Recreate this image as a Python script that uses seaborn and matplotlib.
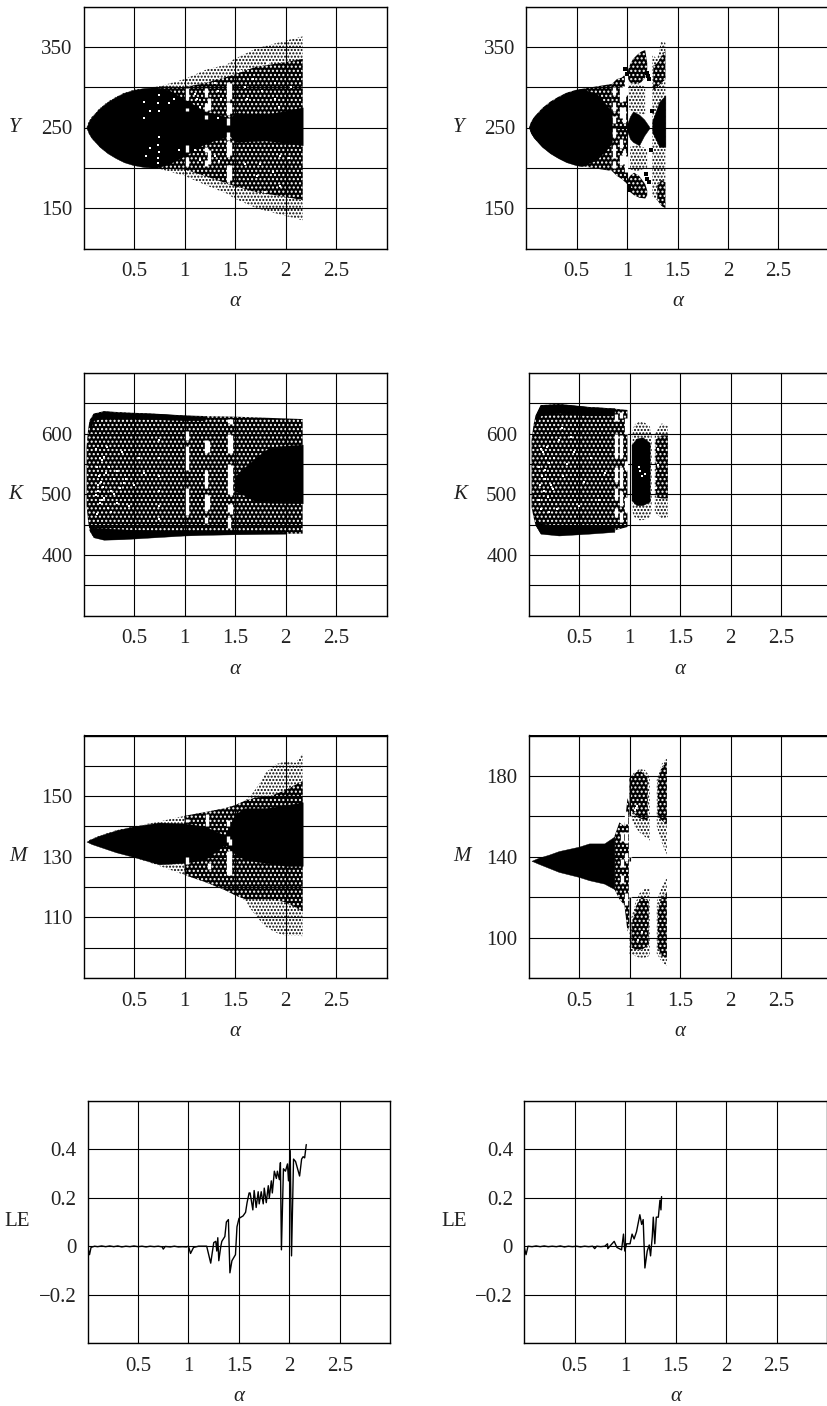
"""
Bifurcation diagrams and largest Lyapunov exponent against alpha.
Values read off the published figure: outlines of the point clouds,
white windows between them, and the two LE curves.
"""

import matplotlib.pyplot as plt
import pandas as pd
import seaborn as sns

# =============================
# DATA - Y, left
# =============================

YL_alpha = [0.03, 0.05, 0.08, 0.16, 0.24, 0.32, 0.4, 0.49, 0.6, 0.75, 1.0, 1.22, 1.42, 1.48, 1.71, 1.98, 2.17]
YL_upper = [250, 257, 263, 274, 282, 288, 293, 296.5, 299, 301, 310, 322, 328, 334, 348, 357, 363]
YL_lower = [250, 243, 237, 226, 218, 212, 207, 203.5, 201, 199, 190, 178, 168, 163, 150, 141, 135]
YL_mid_alpha = [0.75, 1.0, 1.2, 1.48, 1.7, 1.95, 2.17]
YL_mid_upper = [301, 300, 305, 315, 325, 330, 335]
YL_mid_lower = [199, 198, 190, 178, 170, 165, 160]
YL_core_alpha = [0.03, 0.05, 0.08, 0.16, 0.24, 0.32, 0.4, 0.49, 0.6, 0.72, 0.85, 1.0, 1.2, 1.45, 1.5, 1.8, 2.17]
YL_core_upper = [250, 257, 263, 274, 282, 288, 293, 296.5, 299, 300, 296, 285, 270, 262, 268, 266, 275]
YL_core_lower = [250, 243, 237, 226, 218, 212, 207, 203.5, 201, 200, 205, 215, 230, 240, 232, 234, 228]
YL_gap_alpha = [1.02, 1.02, 1.02, 1.02, 1.21, 1.21, 1.21, 1.21, 1.21, 1.24, 1.24,
                1.43, 1.43, 1.43, 1.43, 1.43, 1.43, 1.45, 1.45, 1.45, 1.45]
YL_gap_lo = [284, 270, 220, 202, 288, 270, 260, 220, 202, 272, 205,
             283, 266, 253, 235, 214, 183, 285, 268, 216, 185]
YL_gap_hi = [299, 274, 228, 214, 299, 280, 266, 226, 210, 286, 222,
             307, 282, 262, 245, 233, 204, 305, 280, 232, 203]
YL_speck_alpha = [0.6, 0.6, 0.62, 0.66, 0.66, 0.74, 0.75, 0.74, 0.75, 0.74, 0.75, 0.74, 0.75, 0.85, 0.9, 0.95,
                  1.1, 1.12, 1.15, 1.3, 1.33, 1.36, 1.3, 1.34, 1.1, 1.15, 1.33, 1.6, 1.75, 1.9, 1.95,
                  1.56, 1.62, 1.68, 1.77, 1.83, 1.9, 1.94, 2.05, 1.6, 1.72, 1.8, 1.88, 1.95, 2.03]
YL_speck_y = [282, 262, 215, 270, 225, 212, 220, 228, 238, 206, 270, 280, 290, 280, 285, 222,
              292, 285, 276, 305, 295, 285, 215, 208, 222, 210, 262, 300, 205, 285, 215,
              320, 285, 310, 295, 330, 305, 275, 300, 205, 190, 170, 195, 178, 212]

# =============================
# DATA - Y, right
# =============================

YR_alpha = [0.03, 0.05, 0.08, 0.16, 0.24, 0.32, 0.4, 0.49, 0.7, 0.85]
YR_upper = [250, 257, 263, 274, 282, 288, 293, 296.5, 301, 304]
YR_lower = [250, 243, 237, 226, 218, 212, 207, 203.5, 199, 196]
YR_solid_alpha = [0.03, 0.05, 0.08, 0.16, 0.24, 0.32, 0.4, 0.49, 0.55, 0.7, 0.85]
YR_solid_upper = [250, 257, 263, 274, 282, 288, 293, 296.5, 298, 292, 270]
YR_solid_lower = [250, 243, 237, 226, 218, 212, 207, 203.5, 202, 210, 230]
YR_band_alpha = [0.85, 0.9, 0.95, 1.0]
YR_band_upper = [304, 310, 312, 318]
YR_band_lower = [196, 190, 186, 180]
YR_gap_alpha = [0.87, 0.87, 0.87, 0.87, 0.87, 0.87, 0.94, 0.94, 0.94, 0.94, 0.97, 0.97, 0.97, 0.99, 0.99]
YR_gap_lo = [290, 270, 256, 238, 212, 200, 282, 262, 224, 204, 283, 255, 205, 290, 195]
YR_gap_hi = [300, 282, 264, 250, 228, 208, 300, 276, 236, 216, 302, 275, 222, 316, 215]
YR_toplobe_alpha = [1.0, 1.03, 1.06, 1.1, 1.14, 1.18, 1.2]
YR_toplobe_upper = [318, 328, 335, 340, 344, 346, 330]
YR_toplobe_lower = [312, 306, 304, 304, 306, 312, 322]
YR_botlobe_alpha = [1.0, 1.03, 1.07, 1.12, 1.18, 1.2]
YR_botlobe_upper = [184, 190, 194, 190, 180, 172]
YR_botlobe_lower = [176, 170, 166, 163, 162, 166]
YR_mid_alpha = [1.0, 1.03, 1.06, 1.12, 1.17, 1.22]
YR_mid_upper = [254, 264, 270, 266, 260, 251]
YR_mid_lower = [246, 236, 232, 228, 240, 249]
YR_midtop_alpha = [1.02, 1.1, 1.18]
YR_midtop_upper = [304, 306, 300]
YR_midtop_lower = [272, 268, 266]
YR_midbot_alpha = [1.03, 1.1, 1.2]
YR_midbot_upper = [226, 228, 224]
YR_midbot_lower = [198, 196, 200]
YR_end_alpha = [1.25, 1.3, 1.34, 1.38]
YR_end_upper = [340, 335, 358, 355]
YR_end_lower = [165, 160, 153, 150]
YR_endcore_alpha = [1.25, 1.29, 1.32, 1.38]
YR_endcore_upper = [258, 272, 282, 290]
YR_endcore_lower = [244, 234, 226, 226]
YR_endbot_alpha = [1.3, 1.34, 1.38]
YR_endbot_upper = [178, 185, 182]
YR_endbot_lower = [160, 153, 150]
YR_endtop_alpha = [1.26, 1.3, 1.38]
YR_endtop_upper = [326, 330, 345]
YR_endtop_lower = [296, 300, 310]
YR_blackdot_alpha = [1.2, 1.21, 1.22, 1.19, 1.2, 1.22, 0.98, 1.0, 1.02, 1.03, 1.24, 1.25]
YR_blackdot_y = [318, 314, 310, 192, 186, 182, 322, 316, 178, 172, 222, 270]

# =============================
# DATA - K, left
# =============================

KL_alpha = [0.03, 0.045, 0.06, 0.1, 0.2, 0.4, 0.7, 1.0, 1.2, 1.5, 2.17]
KL_upper = [578, 606, 622, 633, 637, 635, 633, 630, 629, 628, 624]
KL_lower = [482, 456, 440, 429, 425, 426, 429, 432, 433, 434, 435]
KL_top_alpha = [0.06, 0.1, 0.2, 0.4, 0.7, 1.0, 1.2]
KL_top_upper = [622, 633, 637, 635, 633, 630, 629]
KL_top_lower = [604, 622, 626, 626, 624, 622, 622]
KL_bot_alpha = [0.06, 0.1, 0.2, 0.4, 0.7, 1.0, 1.2, 1.5, 2.0]
KL_bot_upper = [452, 445, 444, 442, 440, 440, 440, 440, 438]
KL_bot_lower = [440, 429, 425, 426, 429, 432, 433, 434, 435]
KL_core_alpha = [1.5, 1.6, 1.7, 1.85, 2.17]
KL_core_upper = [530, 545, 560, 578, 582]
KL_core_lower = [505, 498, 488, 486, 485]
KL_gap_alpha = [1.02, 1.02, 1.02, 1.21, 1.21, 1.21, 1.21, 1.23, 1.23, 1.44, 1.44, 1.44, 1.44, 1.44,
                1.46, 1.46, 1.46, 1.46]
KL_gap_lo = [590, 540, 465, 568, 510, 472, 452, 570, 476, 618, 568, 500, 470, 445,
             616, 568, 498, 468]
KL_gap_hi = [605, 580, 510, 590, 540, 500, 462, 588, 498, 624, 600, 550, 484, 462,
             624, 598, 548, 484]
KL_speck_alpha = [0.16, 0.18, 0.2, 0.15, 0.17, 0.22, 0.25, 0.3, 0.18, 0.16, 0.2, 0.24,
                  0.38, 0.42, 0.5, 0.55, 0.6, 0.75, 0.75, 0.75, 0.75, 0.75, 0.75, 0.3, 0.45,
                  0.12, 0.13, 0.14, 0.14, 0.19, 0.23, 0.27, 0.33, 0.36, 0.12, 0.13, 0.27, 0.33, 0.4]
KL_speck_y = [560, 556, 562, 530, 520, 535, 545, 525, 490, 486, 494, 478,
              570, 525, 515, 560, 535, 590, 560, 530, 505, 480, 460, 500, 480,
              575, 545, 515, 505, 512, 578, 505, 538, 510, 498, 468, 470, 485, 518]

# =============================
# DATA - K, right
# =============================

KR_alpha = [0.03, 0.05, 0.07, 0.12, 0.3, 0.6, 0.8, 0.98]
KR_upper = [589, 615, 630, 647, 649, 644, 642, 639]
KR_lower = [479, 462, 449, 435, 432, 435, 438, 446]
KR_top_alpha = [0.07, 0.12, 0.3, 0.6, 0.85]
KR_top_upper = [630, 647, 649, 644, 642]
KR_top_lower = [615, 630, 634, 630, 630]
KR_bot_alpha = [0.07, 0.12, 0.3, 0.6, 0.85]
KR_bot_upper = [460, 452, 448, 448, 450]
KR_bot_lower = [449, 435, 432, 435, 438]
KR_gap_alpha = [0.87, 0.87, 0.87, 0.87, 0.87, 0.92, 0.92, 0.92, 0.92, 0.92, 0.97, 0.97, 0.97]
KR_gap_lo = [620, 560, 520, 490, 462, 625, 560, 510, 480, 455, 600, 540, 470]
KR_gap_hi = [632, 600, 545, 510, 478, 635, 598, 545, 505, 470, 625, 555, 495]
KR_blob_alpha = [1.03, 1.05, 1.1, 1.15, 1.2, 1.22]
KR_blob_upper = [605, 615, 620, 618, 612, 600]
KR_blob_lower = [470, 462, 457, 458, 462, 475]
KR_core_alpha = [1.02, 1.07, 1.13, 1.2]
KR_core_upper = [582, 592, 594, 585]
KR_core_lower = [490, 482, 482, 488]
KR_end_alpha = [1.25, 1.32, 1.38]
KR_end_upper = [600, 617, 612]
KR_end_lower = [470, 460, 462]
KR_endcore_alpha = [1.26, 1.32, 1.38]
KR_endcore_upper = [590, 597, 597]
KR_endcore_lower = [495, 493, 493]
KR_speck_alpha = [0.12, 0.14, 0.17, 0.2, 0.25, 0.13, 0.16, 0.22, 0.15, 0.19, 0.3, 0.38, 0.45, 0.55,
                  1.1, 1.12, 1.15, 1.28, 1.28, 1.26, 1.26, 1.09,
                  0.1, 0.11, 0.16, 0.18, 0.24, 0.28, 0.34, 0.42, 0.5, 0.62, 0.7, 0.76, 0.1, 0.12, 0.2, 0.33]
KR_speck_y = [575, 570, 560, 552, 560, 530, 525, 515, 505, 495, 590, 550, 570, 520,
              538, 530, 534, 575, 548, 525, 510, 545,
              545, 515, 540, 578, 508, 475, 530, 595, 480, 560, 490, 535, 490, 475, 470, 610]

# =============================
# DATA - M, left
# =============================

ML_alpha = [0.03, 0.08, 0.16, 0.32, 0.49, 0.75, 1.0, 1.2, 1.4, 1.5, 1.6, 1.65, 1.72, 1.8, 1.9, 2.0, 2.1, 2.17]
ML_upper = [135, 135.9, 137, 138.7, 140, 141.6, 143.5, 144.7, 146, 147, 148.5, 150, 153, 157.6, 160.5, 161.5, 161, 164]
ML_lower = [135, 134.2, 133.3, 131.5, 130, 127, 124, 121.7, 119, 117.3, 115.7, 113, 110, 107, 105, 104, 104, 103.8]
ML_mid_alpha = [1.0, 1.2, 1.4, 1.5, 1.6, 1.7, 1.85, 2.0, 2.17]
ML_mid_upper = [143.5, 144.7, 146, 147, 148.5, 149.5, 150, 152, 155]
ML_mid_lower = [124, 121.7, 119, 117.3, 116, 116, 116, 115, 112]
ML_core_alpha = [0.03, 0.08, 0.16, 0.32, 0.49, 0.75, 1.0, 1.2, 1.4, 1.5, 1.6, 1.8, 2.0, 2.17]
ML_core_upper = [135, 135.9, 137, 138.7, 140, 141.3, 141, 140, 137, 144, 146, 146, 147, 148]
ML_core_lower = [135, 134.2, 133.3, 131.5, 130, 127.5, 128, 129, 134, 131, 129, 128, 127, 127]
ML_gap_alpha = [1.02, 1.02, 1.22, 1.24, 1.43, 1.43, 1.43, 1.45, 1.45, 1.45]
ML_gap_lo = [127.5, 141.5, 140, 126, 124, 135, 140, 124, 130, 134]
ML_gap_hi = [130, 142.5, 144, 128, 132, 137, 142, 132, 132, 136]

# =============================
# DATA - M, right
# =============================

MR_alpha = [0.03, 0.1, 0.2, 0.3, 0.5, 0.6, 0.75, 0.85]
MR_upper = [138, 139.5, 141, 142.8, 145, 146.6, 146.6, 150]
MR_lower = [138, 136.5, 134.5, 132.5, 130, 128.4, 126.7, 124]
MR_spike_alpha = [0.85, 0.9, 0.95, 0.98, 1.0]
MR_spike_upper = [150, 157, 155, 169, 166]
MR_spike_lower = [124, 119, 116, 103, 106]
MR_gap_alpha = [0.93, 0.93, 0.93, 0.97, 0.97, 0.97, 0.97, 1.0, 1.0]
MR_gap_lo = [135, 127, 148, 138, 116, 147, 156, 120, 140]
MR_gap_hi = [139, 131, 152, 142, 122, 152, 162, 138, 160]
MR_up_alpha = [1.0, 1.05, 1.1, 1.15, 1.2]
MR_up_upper = [179, 182, 183.4, 183, 180]
MR_up_lower = [161, 155, 152, 150, 148]
MR_upcore_alpha = [1.0, 1.05, 1.1, 1.18]
MR_upcore_upper = [179, 181, 183, 179]
MR_upcore_lower = [164, 161, 159, 158]
MR_low_alpha = [1.0, 1.05, 1.1, 1.15, 1.2]
MR_low_upper = [106, 116, 122, 124, 124]
MR_low_lower = [92, 91, 90, 90, 91]
MR_lowcore_alpha = [1.02, 1.07, 1.12, 1.19]
MR_lowcore_upper = [106, 116, 120, 118]
MR_lowcore_lower = [95, 94, 94, 96]
MR_end1_alpha = [1.27, 1.32, 1.37]
MR_end1_upper = [178, 186, 189]
MR_end1_lower = [155, 147, 141]
MR_end1core_alpha = [1.28, 1.32, 1.37]
MR_end1core_upper = [177, 184, 187]
MR_end1core_lower = [160, 158, 156]
MR_end2_alpha = [1.27, 1.32, 1.37]
MR_end2_upper = [118, 125, 130]
MR_end2_lower = [92, 88, 86]
MR_end2core_alpha = [1.28, 1.32, 1.37]
MR_end2core_upper = [114, 120, 122]
MR_end2core_lower = [95, 91, 90]
MR_speck_alpha = [1.06, 1.07, 1.05, 1.23, 1.25, 1.24, 1.23, 1.08, 1.12, 1.25]
MR_speck_y = [164, 165, 163, 173, 174, 165, 166, 99, 103, 102]

# =============================
# DATA - LE curves
# =============================

LEL_alpha = [0.0, 0.02, 0.035, 0.07, 0.1, 0.14, 0.18, 0.22, 0.26, 0.3, 0.34, 0.38, 0.42, 0.46, 0.5,
             0.54, 0.58, 0.62, 0.66, 0.7, 0.74, 0.75, 0.77, 0.82, 0.86, 0.9, 0.94, 0.98, 1.0, 1.02,
             1.05, 1.1, 1.18, 1.22, 1.25, 1.27, 1.28, 1.29, 1.3, 1.32, 1.33, 1.36, 1.375, 1.395,
             1.41, 1.43, 1.465, 1.48, 1.5, 1.52, 1.54, 1.565, 1.58, 1.6, 1.61, 1.637, 1.65, 1.67,
             1.69, 1.7, 1.72, 1.74, 1.75, 1.77, 1.79, 1.8, 1.82, 1.83, 1.85, 1.87, 1.88, 1.9, 1.91,
             1.92, 1.94, 1.96, 1.98, 1.99, 2.007, 2.02, 2.04, 2.06, 2.08, 2.10, 2.12, 2.135, 2.15, 2.166]
LEL_value = [0.0, -0.035, -0.005, 0.0, -0.002, 0.001, -0.002, 0.001, -0.002, 0.001, -0.003, 0.0,
             -0.002, 0.001, -0.002, 0.0, -0.003, 0.0, -0.002, 0.0, -0.003, -0.012, -0.001, -0.003,
             0.0, -0.003, -0.002, -0.003, 0.0, -0.03, -0.005, 0.0, 0.0, -0.07, 0.015, 0.02, -0.02,
             0.035, -0.06, 0.0, 0.02, 0.04, 0.1, 0.11, -0.11, -0.06, -0.035, 0.08, 0.115, 0.12, 0.125,
             0.14, 0.18, 0.22, 0.22, 0.15, 0.23, 0.16, 0.225, 0.175, 0.225, 0.175, 0.24, 0.18, 0.25,
             0.2, 0.27, 0.22, 0.31, 0.28, 0.31, 0.275, 0.345, -0.015, 0.32, 0.31, 0.34, 0.27, 0.395,
             -0.04, 0.36, 0.35, 0.32, 0.29, 0.36, 0.37, 0.365, 0.42]

LER_alpha = [0.0, 0.02, 0.04, 0.08, 0.12, 0.16, 0.2, 0.24, 0.28, 0.32, 0.36, 0.4, 0.44, 0.48, 0.52,
             0.56, 0.6, 0.64, 0.68, 0.7, 0.72, 0.76, 0.8, 0.827, 0.83, 0.85, 0.893, 0.92, 0.966,
             0.985, 0.998, 1.015, 1.05, 1.07, 1.09, 1.114, 1.147, 1.165, 1.18, 1.197, 1.22, 1.24,
             1.253, 1.27, 1.28, 1.295, 1.31, 1.33, 1.346, 1.356, 1.362]
LER_value = [0.0, -0.035, 0.0, -0.002, 0.001, -0.002, 0.001, -0.002, 0.0, -0.002, 0.001, -0.003,
             0.0, -0.002, 0.0, -0.003, 0.0, -0.002, 0.0, -0.01, 0.0, -0.002, 0.0, 0.01, -0.01, 0.0,
             0.02, -0.005, -0.015, 0.05, -0.02, 0.01, 0.01, 0.05, 0.03, 0.06, 0.13, 0.09, 0.11,
             -0.09, -0.02, 0.005, -0.04, 0.04, 0.12, 0.01, 0.12, 0.12, 0.19, 0.15, 0.205]

X_GRID = [0.5, 1, 1.5, 2, 2.5]
X_LABELS = ["0.5", "1", "1.5", "2", "2.5"]
Y_GRID = [100, 150, 200, 250, 300, 350, 400]
Y_LABELS = ["", "150", "", "250", "", "350", ""]
K_GRID = [300, 350, 400, 450, 500, 550, 600, 650, 700]
K_LABELS = ["", "", "400", "", "500", "", "600", "", ""]
ML_GRID = [90, 100, 110, 120, 130, 140, 150, 160, 170]
ML_LABELS = ["", "", "110", "", "130", "", "150", "", ""]
MR_GRID = [80, 100, 120, 140, 160, 180, 200]
MR_LABELS = ["", "100", "", "140", "", "180", ""]
LE_GRID = [-0.4, -0.2, 0, 0.2, 0.4, 0.6]
LE_LABELS = ["", "\u22120.2", "0", "0.2", "0.4", ""]

# =============================
# STYLE
# =============================

sns.set_style("white")
plt.rcParams["font.family"] = ["Liberation Serif", "DejaVu Serif"]
INK = "#222222"
W, H = 827, 1406

fig = plt.figure(figsize=(W / 100, H / 100), dpi=100)


def make_axes(left, top, bottom, ylim, yticks, ylabels, label_x):
    ax = fig.add_axes([left / W, 1 - bottom / H, 303 / W, (bottom - top) / H])
    ax.set_xlim(0, 3)
    ax.set_ylim(*ylim)
    ax.set_xticks(X_GRID, X_LABELS)
    ax.set_yticks(yticks, ylabels)
    ax.tick_params(length=0, labelsize=15, labelcolor=INK, pad=8)
    ax.tick_params(axis="x", pad=10)
    ax.grid(True, color="black", lw=0.8)
    ax.set_axisbelow(False)
    for spine in ax.spines.values():
        spine.set_linewidth(1.0)
        spine.set_color("black")
        spine.set_zorder(6)
    ax.yaxis.set_label_coords(label_x, 0.5)
    return ax


def solid(ax, x, up, lo):
    ax.fill_between(x, lo, up, color="black", lw=0.3, zorder=2)


def dense(ax, x, up, lo):
    # mostly black cloud, white pinholes
    ax.fill_between(x, lo, up, facecolor="black", edgecolor="white",
                    hatch="....", lw=0, zorder=1.5)


def sparse(ax, x, up, lo):
    # thin cloud, scattered black dots
    ax.fill_between(x, lo, up, facecolor="white", edgecolor="black",
                    hatch=".....", lw=0, zorder=1.2)


def gaps(ax, x, lo, hi, width=2.4):
    rows = []
    for i, (a, l, h) in enumerate(zip(x, lo, hi)):
        rows.append({"alpha": a, "value": l, "gap": i})
        rows.append({"alpha": a, "value": h, "gap": i})
    sns.lineplot(data=pd.DataFrame(rows), x="alpha", y="value", units="gap", estimator=None,
                 color="white", lw=width, ax=ax, zorder=3, legend=False, sort=False,
                 solid_capstyle="butt")


def specks(ax, x, y, color="white", size=3.5):
    sns.scatterplot(x=x, y=y, color=color, s=size, marker="s", linewidth=0, ax=ax,
                    zorder=3, legend=False)


# =============================
# Y PANELS
# =============================

ax = make_axes(83.5, 6.5, 248.5, (100, 400), Y_GRID, Y_LABELS, -0.226)
sparse(ax, YL_alpha, YL_upper, YL_lower)
dense(ax, YL_mid_alpha, YL_mid_upper, YL_mid_lower)
solid(ax, YL_core_alpha, YL_core_upper, YL_core_lower)
gaps(ax, YL_gap_alpha, YL_gap_lo, YL_gap_hi)
specks(ax, YL_speck_alpha, YL_speck_y)

ax = make_axes(526, 6.5, 248.5, (100, 400), Y_GRID, Y_LABELS, -0.224)
dense(ax, YR_alpha, YR_upper, YR_lower)
solid(ax, YR_solid_alpha, YR_solid_upper, YR_solid_lower)
dense(ax, YR_band_alpha, YR_band_upper, YR_band_lower)
gaps(ax, YR_gap_alpha, YR_gap_lo, YR_gap_hi)
sparse(ax, YR_midtop_alpha, YR_midtop_upper, YR_midtop_lower)
sparse(ax, YR_midbot_alpha, YR_midbot_upper, YR_midbot_lower)
dense(ax, YR_toplobe_alpha, YR_toplobe_upper, YR_toplobe_lower)
dense(ax, YR_botlobe_alpha, YR_botlobe_upper, YR_botlobe_lower)
solid(ax, YR_mid_alpha, YR_mid_upper, YR_mid_lower)
sparse(ax, YR_end_alpha, YR_end_upper, YR_end_lower)
solid(ax, YR_endcore_alpha, YR_endcore_upper, YR_endcore_lower)
dense(ax, YR_endbot_alpha, YR_endbot_upper, YR_endbot_lower)
dense(ax, YR_endtop_alpha, YR_endtop_upper, YR_endtop_lower)
specks(ax, YR_blackdot_alpha, YR_blackdot_y, color="black", size=5)

# =============================
# K PANELS
# =============================

ax = make_axes(83.5, 373, 615.5, (300, 700), K_GRID, K_LABELS, -0.224)
dense(ax, KL_alpha, KL_upper, KL_lower)
solid(ax, KL_top_alpha, KL_top_upper, KL_top_lower)
solid(ax, KL_bot_alpha, KL_bot_upper, KL_bot_lower)
solid(ax, KL_core_alpha, KL_core_upper, KL_core_lower)
gaps(ax, KL_gap_alpha, KL_gap_lo, KL_gap_hi)
specks(ax, KL_speck_alpha, KL_speck_y)

ax = make_axes(528.5, 373, 615.5, (300, 700), K_GRID, K_LABELS, -0.226)
dense(ax, KR_alpha, KR_upper, KR_lower)
solid(ax, KR_top_alpha, KR_top_upper, KR_top_lower)
solid(ax, KR_bot_alpha, KR_bot_upper, KR_bot_lower)
gaps(ax, KR_gap_alpha, KR_gap_lo, KR_gap_hi)
sparse(ax, KR_blob_alpha, KR_blob_upper, KR_blob_lower)
solid(ax, KR_core_alpha, KR_core_upper, KR_core_lower)
sparse(ax, KR_end_alpha, KR_end_upper, KR_end_lower)
dense(ax, KR_endcore_alpha, KR_endcore_upper, KR_endcore_lower)
specks(ax, KR_speck_alpha, KR_speck_y)

# =============================
# M PANELS
# =============================

ax = make_axes(83.5, 735.5, 978, (90, 170), ML_GRID, ML_LABELS, -0.216)
sparse(ax, ML_alpha, ML_upper, ML_lower)
dense(ax, ML_mid_alpha, ML_mid_upper, ML_mid_lower)
solid(ax, ML_core_alpha, ML_core_upper, ML_core_lower)
gaps(ax, ML_gap_alpha, ML_gap_lo, ML_gap_hi)

ax = make_axes(528.5, 735.5, 978, (80, 200), MR_GRID, MR_LABELS, -0.22)
solid(ax, MR_alpha, MR_upper, MR_lower)
dense(ax, MR_spike_alpha, MR_spike_upper, MR_spike_lower)
gaps(ax, MR_gap_alpha, MR_gap_lo, MR_gap_hi)
sparse(ax, MR_up_alpha, MR_up_upper, MR_up_lower)
dense(ax, MR_upcore_alpha, MR_upcore_upper, MR_upcore_lower)
sparse(ax, MR_low_alpha, MR_low_upper, MR_low_lower)
dense(ax, MR_lowcore_alpha, MR_lowcore_upper, MR_lowcore_lower)
sparse(ax, MR_end1_alpha, MR_end1_upper, MR_end1_lower)
dense(ax, MR_end1core_alpha, MR_end1core_upper, MR_end1core_lower)
sparse(ax, MR_end2_alpha, MR_end2_upper, MR_end2_lower)
dense(ax, MR_end2core_alpha, MR_end2core_upper, MR_end2core_lower)
specks(ax, MR_speck_alpha, MR_speck_y)

# =============================
# LE PANELS
# =============================

ax = make_axes(87.5, 1101, 1343, (-0.4, 0.6), LE_GRID, LE_LABELS, -0.233)
sns.lineplot(x=LEL_alpha, y=LEL_value, color="black", lw=1.0, ax=ax, estimator=None, zorder=4)

ax = make_axes(524, 1101, 1343, (-0.4, 0.6), LE_GRID, LE_LABELS, -0.231)
sns.lineplot(x=LER_alpha, y=LER_value, color="black", lw=1.0, ax=ax, estimator=None, zorder=4)

# lineplot/scatterplot overwrite the axis labels, so set them last
names = ["Y", "Y", "K", "K", "M", "M", "LE", "LE"]
for ax, name in zip(fig.axes, names):
    ax.set_xlabel("\u03b1", fontsize=15, style="italic", color=INK, labelpad=8)
    ax.set_ylabel(name, fontsize=15, style="normal" if name == "LE" else "italic",
                  color=INK, rotation=0, va="center", ha="center")

fig.savefig("out.png", dpi=100)
plt.close(fig)
